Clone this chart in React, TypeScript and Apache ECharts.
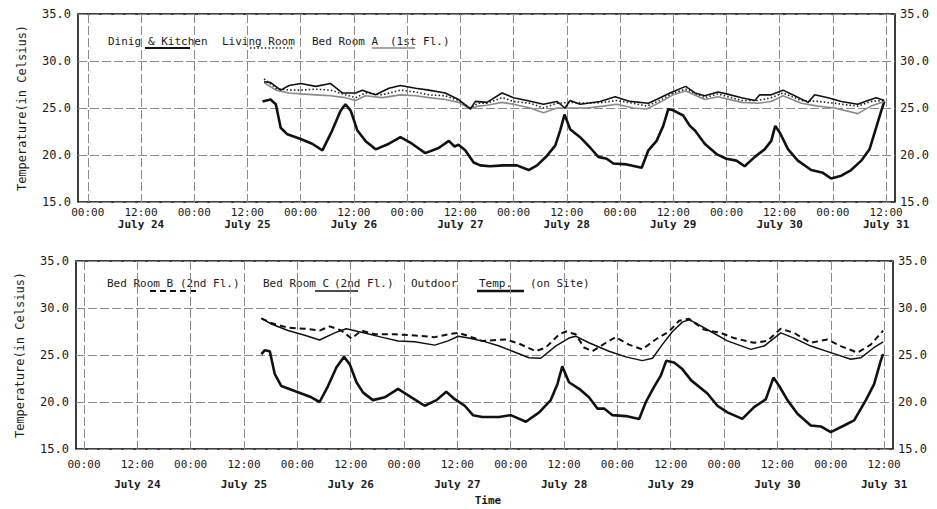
import React, { useEffect, useRef } from "react";
import * as echarts from "echarts";

// hours counted from July 24, 00:00
const xTickHours = [0, 12, 24, 36, 48, 60, 72, 84, 96, 108, 120, 132, 144, 156, 168, 180];
const noonDates = ["July 24", "July 25", "July 26", "July 27", "July 28", "July 29", "July 30", "July 31"];

// upper panel
const topOutdoor = [[39.4,25.7],[41.2,25.9],[42.4,25.4],[43.5,22.9],[45,22.2],[48,21.7],[50.6,21.2],[52.9,20.5],[55.1,22.6],[57,24.7],[58.1,25.4],[59.3,24.7],[60.8,22.6],[62.6,21.5],[64.9,20.6],[67.9,21.2],[70.5,21.9],[73.1,21.2],[76.1,20.2],[79.1,20.75],[81.4,21.5],[82.7,20.9],[83.6,21.1],[85.1,20.5],[87,19.2],[88.5,18.9],[90.7,18.8],[93.7,18.9],[96.75,18.9],[99.4,18.4],[101.3,18.9],[103.5,19.9],[105.4,21.0],[106.5,22.6],[107.5,24.3],[108.75,22.75],[111,21.9],[113.25,20.8],[115.1,19.8],[117,19.6],[118.5,19.1],[121.5,19.0],[124.9,18.65],[126.4,20.5],[128.25,21.5],[129.75,23.1],[130.9,24.9],[132,24.75],[134.25,24.2],[135.75,23.1],[136.9,22.6],[139.1,21.2],[141.75,20.1],[144,19.6],[146.25,19.4],[148.1,18.8],[150.4,19.8],[152.6,20.6],[154.1,21.5],[155,23.1],[156,22.4],[157.9,20.6],[160.1,19.4],[163.1,18.4],[165.75,18.1],[167.6,17.5],[169.9,17.8],[172.1,18.4],[174.4,19.4],[176.25,20.6],[177.75,22.9],[178.9,24.7],[179.6,25.7]];
const diningKitchen = [[39.75,27.8],[41.25,27.7],[43.5,26.9],[45.4,27.4],[48,27.6],[51.4,27.3],[54.75,27.6],[57.4,26.6],[60.4,26.6],[61.9,26.9],[64.9,26.4],[67.9,27.1],[70.5,27.4],[73.9,27.1],[76.9,26.9],[80.6,26.6],[83.6,25.9],[86.25,24.9],[87.4,25.7],[90,25.6],[93.4,26.6],[96,26.1],[99,25.8],[102.75,25.4],[105.75,25.7],[107.6,25.0],[108.75,25.8],[111,25.4],[115.5,25.7],[118.9,26.2],[122.25,25.7],[126.4,25.5],[128.25,25.9],[131.25,26.6],[134.8,27.3],[136.9,26.6],[139.1,26.3],[142.1,26.7],[144,26.5],[147.4,26.1],[150.4,25.8],[151.5,26.4],[154.1,26.4],[156.75,26.9],[159.4,26.3],[162.4,25.6],[163.9,26.4],[166.9,26.1],[169.9,25.7],[173.6,25.4],[175.9,25.8],[177.75,26.1],[179.6,25.8]];
const livingRoom = [[39.75,28.1],[42.4,27.1],[45.4,26.9],[48,26.9],[51.4,27.0],[54.75,26.9],[58.1,26.4],[60.4,26.1],[62.6,26.6],[66.4,26.4],[70.5,26.9],[73.9,26.7],[76.9,26.4],[80.6,26.3],[83.6,25.8],[86.25,25.0],[88,25.5],[90,25.5],[93.4,26.1],[96,25.7],[99.75,25.5],[102.75,25.0],[105.75,25.5],[108.75,25.6],[112.5,25.5],[116.25,25.6],[119.25,25.8],[123,25.5],[126,25.2],[129,25.8],[132,26.6],[134.8,27.0],[139.1,26.1],[142.1,26.5],[147.4,25.8],[151.1,25.8],[154.1,26.1],[156.75,26.6],[160.9,25.8],[164.6,25.7],[168.4,25.5],[173.6,25.2],[176.6,25.7],[179.6,25.8]];
const bedRoomA = [[39.75,27.7],[42.4,26.9],[45.4,26.6],[48,26.5],[51.4,26.4],[54.75,26.3],[58.1,26.1],[60.4,25.8],[62.6,26.3],[66.4,26.1],[70.5,26.4],[73.9,26.3],[76.9,26.1],[80.6,25.9],[83.6,25.6],[86.25,24.9],[88,25.2],[90,25.3],[93.4,25.6],[96,25.4],[99.75,25.0],[102.75,24.5],[105.75,25.0],[108.75,25.0],[112.5,25.0],[116.25,25.2],[119.25,25.4],[123,25.0],[126,24.9],[129,25.6],[132,26.4],[134.8,26.8],[139.1,25.9],[142.1,26.2],[147.4,25.6],[151.1,25.5],[154.1,25.7],[156.75,26.3],[160.9,25.5],[164.6,25.2],[168.4,25.0],[173.6,24.4],[176.6,25.2],[179.6,25.7]];

// lower panel
const outdoorTemp = [[39.9,25.1],[40.65,25.5],[41.8,25.4],[42.9,23.0],[44.4,21.7],[46.65,21.3],[48.9,20.9],[51.15,20.5],[53,20.0],[54.9,21.7],[56.8,23.7],[58.5,24.8],[59.8,24.0],[61.3,22.1],[62.8,21.0],[65,20.2],[67.65,20.5],[70.65,21.4],[73.65,20.5],[76.65,19.6],[79.3,20.2],[81.5,21.1],[83.4,20.3],[85.65,19.6],[87.5,18.6],[89.6,18.4],[93.4,18.4],[96,18.6],[99.4,17.9],[102.4,18.9],[105,20.2],[106.5,21.9],[107.6,23.8],[109.1,22.1],[111.4,21.4],[113.6,20.5],[115.5,19.3],[117,19.3],[118.9,18.6],[121.9,18.5],[124.9,18.2],[126.4,20.0],[128.25,21.6],[129.75,22.8],[131,24.4],[132.75,24.2],[134.6,23.5],[136.6,22.3],[140.25,20.9],[142.5,19.6],[144.75,18.9],[148.1,18.2],[150.75,19.45],[153.4,20.3],[155.1,22.6],[156.4,21.7],[158.25,20.2],[160.5,18.75],[163.5,17.5],[165.75,17.4],[168,16.8],[171,17.5],[173.25,18.05],[175.9,20.2],[177.75,21.9],[179.25,24.4],[179.8,25.1]];
const bedRoomC = [[39.9,28.9],[42.15,28.3],[45.9,27.6],[49.65,27.1],[53,26.6],[56.4,27.35],[59,27.8],[61.65,27.5],[63.15,27.35],[66.9,26.9],[70.65,26.5],[74.4,26.4],[78.9,26.05],[81.9,26.5],[84.2,27.0],[86.5,26.8],[89.6,26.5],[93.4,25.95],[96.4,25.4],[100.1,24.7],[102.75,24.65],[106.1,25.95],[109.1,26.8],[110.6,27.0],[113.6,26.3],[118.1,25.4],[121.9,24.8],[125.6,24.4],[127.9,24.65],[130.1,26.1],[132.4,27.5],[134.6,28.5],[136.1,28.75],[137.25,28.5],[141,27.5],[144.75,26.5],[150,25.6],[153,25.95],[156.75,27.35],[159.75,26.8],[163.5,25.95],[168,25.25],[172.5,24.55],[174.75,24.7],[177.75,25.8],[179.8,26.4]];
const bedRoomB = [[39.9,28.9],[42.15,28.4],[45.9,27.9],[49.65,27.8],[53,27.6],[55.3,28.05],[57.9,27.6],[60.2,26.75],[62.4,27.6],[65.4,27.2],[69.9,27.2],[73.65,27.1],[78.9,26.9],[81.9,27.2],[84.2,27.35],[86.6,27.0],[89.6,26.5],[94.9,26.65],[97.9,26.2],[101.6,25.4],[103.9,25.8],[106.9,27.2],[108.4,27.5],[110.6,27.2],[112.5,25.8],[114.4,25.4],[117.4,26.3],[119.6,26.9],[122.6,26.1],[125.6,25.6],[128.6,26.65],[131.6,27.5],[133.9,28.65],[136.1,28.85],[139.5,27.7],[143.25,27.35],[146.25,26.8],[150.75,26.3],[153.75,26.5],[156.75,27.8],[159.75,27.35],[163.5,26.3],[167.25,26.65],[170.25,25.95],[174,25.25],[177,26.1],[179.8,27.6]];

const FONT = "'DejaVu Sans Mono', 'Liberation Mono', monospace";
const INK = "#1a1a1a";
const GRIDLINE = { color: "#8c8c8c", width: 1, type: [9, 3] as any };

function xLabel(v: number) {
  if (v % 24 === 0) return "{t|00:00}";
  return "{t|12:00}\n{d|" + noonDates[Math.floor(v / 24)] + "}";
}

function makeX(gridIndex: number, min: number, lineH: number, margin: number) {
  return {
    type: "value",
    gridIndex,
    min,
    max: 182,
    axisLine: { show: false },
    axisTick: { show: false, customValues: xTickHours },
    axisLabel: {
      customValues: xTickHours,
      formatter: xLabel,
      margin,
      color: INK,
      rich: {
        t: { fontFamily: FONT, fontSize: 11, color: INK, lineHeight: lineH },
        d: { fontFamily: FONT, fontSize: 11, fontWeight: "bold", color: INK, lineHeight: lineH },
      },
    },
    splitLine: { show: true, lineStyle: GRIDLINE },
  };
}

function makeY(gridIndex: number, position: string, withName: boolean) {
  return {
    type: "value",
    gridIndex,
    position,
    min: 15,
    max: 35,
    interval: 5,
    axisLine: { show: false },
    axisTick: { show: false },
    axisLabel: {
      formatter: (v: number) => v.toFixed(1),
      fontFamily: FONT,
      fontSize: 12,
      color: INK,
      margin: position === "left" ? 7 : 5,
    },
    splitLine: { show: position === "left", lineStyle: GRIDLINE },
    name: withName ? "Temperature(in Celsius)" : "",
    nameLocation: "middle",
    nameGap: 50,
    nameTextStyle: { fontFamily: FONT, fontSize: 12, color: INK },
  };
}

function line(name: string, data: number[][], xi: number, yi: number, style: any) {
  return {
    type: "line",
    name,
    data,
    xAxisIndex: xi,
    yAxisIndex: yi,
    showSymbol: false,
    symbol: "none",
    smooth: false,
    lineStyle: style,
    silent: true,
  };
}

function legendText(x: number, y: number, text: string) {
  return {
    type: "text",
    x,
    y,
    style: { text, fontFamily: FONT, fontSize: 11, fill: INK, verticalAlign: "middle" },
  };
}
function legendLine(x1: number, x2: number, y: number, stroke: string, lineWidth: number, lineDash?: number[]) {
  return {
    type: "line",
    shape: { x1, y1: y, x2, y2: y },
    style: { stroke, lineWidth, lineDash: lineDash || null },
  };
}

export default function App() {
  const ref = useRef<HTMLDivElement>(null);
  useEffect(() => {
    if (!ref.current) return;
    const chart = echarts.init(ref.current, null, { renderer: "svg" });
    chart.setOption({
      animation: false,
      backgroundColor: "#ffffff",
      grid: [
        { left: 78, right: 42, top: 14, height: 188, show: true, borderColor: "#000", borderWidth: 1.5, backgroundColor: "transparent" },
        { left: 76, right: 44, top: 261, height: 188, show: true, borderColor: "#000", borderWidth: 1.5, backgroundColor: "transparent" },
      ],
      xAxis: [makeX(0, -2.2, 12, 4), makeX(1, -1.8, 20, 5)],
      yAxis: [makeY(0, "left", true), makeY(0, "right", false), makeY(1, "left", true), makeY(1, "right", false)],
      series: [
        line("Outdoor", topOutdoor, 0, 0, { color: "#111", width: 2.6 }),
        line("Bed Room A (1st Fl.)", bedRoomA, 0, 0, { color: "#8a8a8a", width: 1.6 }),
        line("Living Room", livingRoom, 0, 0, { color: "#222", width: 1.6, type: [1.5, 2.2] }),
        line("Dinig & Kitchen", diningKitchen, 0, 0, { color: "#111", width: 1.6 }),
        line("Outdoor Temp. (on Site)", outdoorTemp, 1, 2, { color: "#111", width: 2.6 }),
        line("Bed Room C (2nd Fl.)", bedRoomC, 1, 2, { color: "#111", width: 1.5 }),
        line("Bed Room B (2nd Fl.)", bedRoomB, 1, 2, { color: "#111", width: 2, type: [6, 4] }),
      ],
      graphic: [
        legendText(108, 41, "Dinig"),
        legendText(148, 41, "& Kitchen"),
        legendText(222, 41, "Living Room"),
        legendText(312, 41, "Bed Room A"),
        legendText(390, 41, "(1st Fl.)"),
        legendLine(145, 190, 48, "#111", 2),
        legendLine(250, 293, 48, "#222", 1.6, [1.5, 2.2]),
        legendLine(372, 415, 48, "#8a8a8a", 1.5),
        legendText(107, 283, "Bed Room B"),
        legendText(180, 283, "(2nd Fl.)"),
        legendText(263, 283, "Bed Room C"),
        legendText(334, 283, "(2nd Fl.)"),
        legendText(411, 283, "Outdoor"),
        legendText(479, 283, "Temp."),
        legendText(530, 283, "(on Site)"),
        legendLine(150, 196, 291, "#111", 2, [6, 4]),
        legendLine(315, 358, 291, "#111", 1.5),
        legendLine(477, 524, 291, "#111", 2.4),
        {
          type: "text",
          x: 488,
          y: 500,
          style: { text: "Time", fontFamily: FONT, fontSize: 11, fontWeight: "bold", fill: INK, align: "center", verticalAlign: "middle" },
        },
      ],
    });
    return () => chart.dispose();
  }, []);
  return <div ref={ref} style={{ position: "fixed", left: 0, top: 0, width: 937, height: 509 }} />;
}
